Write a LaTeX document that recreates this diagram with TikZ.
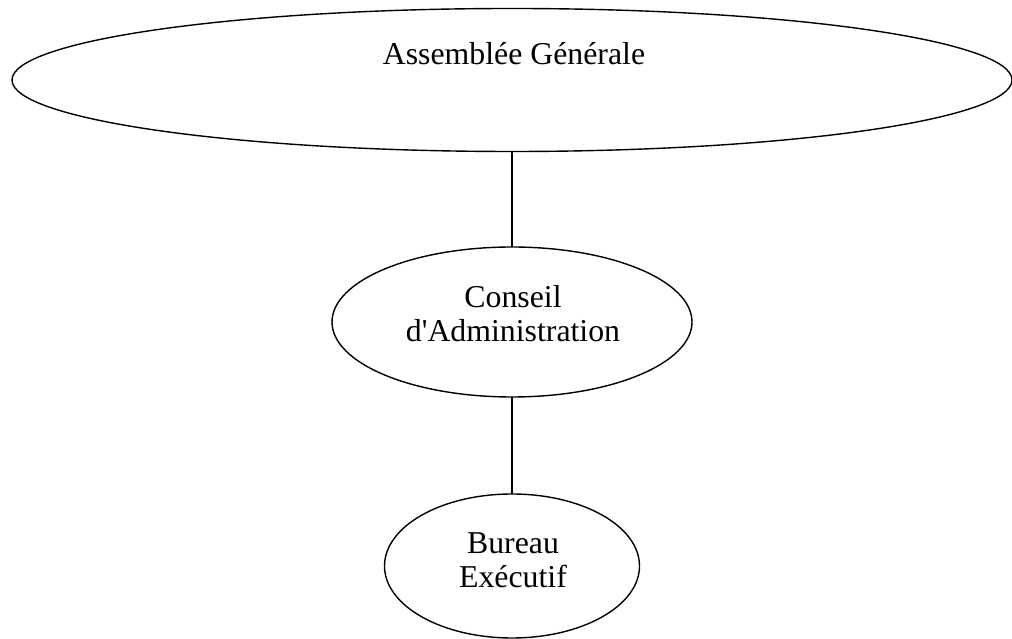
\documentclass[tikz,border=0pt]{standalone}
\usepackage{fontspec}
\setmainfont{Liberation Serif}
\usetikzlibrary{shapes.geometric}
\begin{document}
\begin{tikzpicture}[x=1pt,y=1pt,
  organ/.style={draw,ellipse,line width=1.4pt,inner sep=0pt,outer sep=0pt},
  caption/.style={anchor=base,inner sep=0pt,font=\fontsize{31.8}{34.5}\selectfont},
  link/.style={line width=1.4pt}]
\useasboundingbox (0,0) rectangle (1012,639);
% the three governing bodies, top to bottom
\node[organ,minimum width=1000pt,minimum height=143pt] (ag) at (512,559) {};
\node[organ,minimum width=360pt,minimum height=150pt] (ca) at (512,317) {};
\node[organ,minimum width=255pt,minimum height=144pt] (be) at (512,73) {};
% labels
\node[caption] (agtxt) at (514,574) {Assemblée Générale};
\node[caption] (catxt1) at (513,331) {Conseil};
\node[caption] (catxt2) at (513,297) {d\textquotesingle Administration};
\node[caption] (betxt1) at (513,85) {Bureau};
\node[caption] (betxt2) at (513,51) {Exécutif};
% hierarchy links
\draw[link] (ag.south) -- (ca.north);
\draw[link] (ca.south) -- (be.north);
\end{tikzpicture}
\end{document}
